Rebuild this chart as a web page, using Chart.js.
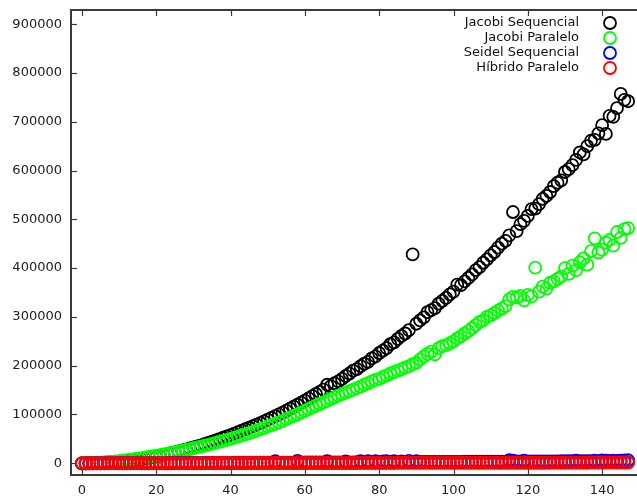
<!DOCTYPE html>
<html>
<head>
<meta charset="utf-8">
<script src="https://cdn.jsdelivr.net/npm/chart.js@4/dist/chart.umd.min.js"></script>
<style>
html,body{margin:0;padding:0;background:#fff;overflow:hidden}
#wrap{width:637px;height:497px;position:relative}
</style>
</head>
<body>
<div id="wrap"><canvas id="c"></canvas></div>
<script>
const xValues = [0,1,2,3,4,5,6,7,8,9,10,11,12,13,14,15,16,17,18,19,20,21,22,23,24,25,26,27,28,29,30,31,32,33,34,35,36,37,38,39,40,41,42,43,44,45,46,47,48,49,50,51,52,53,54,55,56,57,58,59,60,61,62,63,64,65,66,67,68,69,70,71,72,73,74,75,76,77,78,79,80,81,82,83,84,85,86,87,88,89,90,91,92,93,94,95,96,97,98,99,100,101,102,103,104,105,106,107,108,109,110,111,112,113,114,115,116,117,118,119,120,121,122,123,124,125,126,127,128,129,130,131,132,133,134,135,136,137,138,139,140,141,142,143,144,145,146,147];

const jacobiSequencial = [0,40,150,330,590,900,1300,1800,2300,2900,3600,4300,5100,6000,7000,8000,9100,10300,11500,12800,14200,15800,17300,18900,20600,22300,24300,26200,28100,30300,32400,34500,36900,39300,41800,44200,46800,49500,52300,55000,57800,60700,63800,66900,69800,72800,76000,79300,82500,86000,89500,93000,96500,100300,104000,108000,112000,116000,120000,124300,128500,133000,137500,142000,146500,151000,161000,158000,164000,168000,173000,179000,184000,190000,193000,199000,204000,208000,215000,219000,226000,231000,236000,244000,248000,255000,261000,266000,273000,428000,286000,293000,299000,310000,314000,318000,327000,333000,339000,346000,352000,366000,365000,373000,380000,387000,396000,402000,411000,418000,426000,433000,442000,450000,456000,467000,515000,476000,490000,497000,507000,521000,522000,531000,542000,548000,556000,568000,575000,580000,597000,603000,611000,622000,637000,633000,650000,661000,663000,676000,693000,675000,712000,710000,728000,757000,745000,742000];

const jacobiParalelo = [0,60,200,420,750,1200,1700,2300,3000,3700,4500,5400,6300,7300,8400,9500,10700,11900,13100,14300,15600,16900,18200,19600,21000,22500,24000,25700,27300,29000,30800,32600,34300,36000,37800,39800,41700,43800,46000,48000,50200,52500,54600,57000,59500,62000,64500,67000,69800,72500,75500,78300,81000,84000,87000,90500,94000,97000,100500,104000,107500,111000,114500,118000,121500,125000,128500,132000,135000,138500,142000,145000,148000,151000,154000,157000,161000,164000,168000,171000,173000,177000,180000,184000,187000,190000,193000,196000,199000,203000,206000,213000,219000,224000,229000,223000,236000,240000,242000,246000,250000,256000,260000,266000,271000,277000,283000,290000,293000,300000,303000,308000,313000,317000,322000,336000,341000,340000,343000,334000,345000,342000,401000,352000,362000,358000,370000,373000,378000,383000,400000,388000,405000,396000,412000,420000,407000,435000,461000,432000,438000,452000,458000,446000,474000,462000,480000,482000];

const seidelSequencial = [0,20,40,60,90,110,130,160,180,200,230,250,280,300,330,350,380,400,430,450,480,500,530,560,580,610,640,660,690,720,740,770,800,830,860,880,910,940,970,1000,1030,1060,1090,1120,1150,1180,1210,1240,1270,1300,1330,1360,4500,1420,1450,1480,1510,1540,5000,1600,1640,1670,1700,1730,1760,1800,4500,1860,1890,1930,1960,4000,2020,2060,2090,4200,2160,4500,2230,4300,2300,3800,4600,2400,4400,2470,4100,2540,4800,2610,4200,2680,2710,2750,2790,2820,2860,2900,2930,2970,3000,3040,3080,3120,3150,3190,3230,3270,3310,3340,3380,3420,3460,3500,3540,6200,5600,3660,3700,5500,3780,3820,3860,3900,3940,3980,4020,4060,4100,4140,4180,4220,4260,5200,4340,4380,4420,4460,5600,4540,5800,5400,4660,5200,5000,5600,5900,6200];

const hibridoParalelo = [0,10,20,30,40,50,60,70,80,90,100,110,120,130,140,150,160,170,180,190,200,210,220,230,240,250,260,270,280,290,300,310,320,330,340,350,360,370,380,390,400,410,420,430,440,450,460,470,480,490,500,510,520,530,540,550,560,570,580,590,600,610,620,630,640,650,660,670,680,690,700,710,720,730,740,750,760,770,780,790,800,810,820,830,840,850,860,870,880,890,900,910,920,930,940,950,960,970,980,990,1000,1010,1020,1030,1040,1050,1060,1070,1080,1090,1100,1110,1120,1130,1140,1150,1160,1170,1180,1190,1200,1210,1220,1230,1240,1250,1260,1270,1280,1290,1300,1310,1320,1330,1340,1350,1360,1370,1380,1390,1400,1410,1420,1430,1440,1450,1460,1470];

const xTicks = [0,20,40,60,80,100,120,140];
const yTicks = [0,100000,200000,300000,400000,500000,600000,700000,800000,900000];
const seriesNames = ['Jacobi Sequencial','Jacobi Paralelo','Seidel Sequencial','Híbrido Paralelo'];
const seriesValues = [jacobiSequencial, jacobiParalelo, seidelSequencial, hibridoParalelo];
const seriesColors = ['#000000','#00ff00','#0000ff','#ff0000'];

const FONT = "'DejaVu Sans', 'Liberation Sans', sans-serif";
const AXIS_COLOR = '#3a3a3a';

const datasets = seriesNames.map((name, i) => ({
  label: name,
  data: xValues.map((x, j) => ({x: x, y: seriesValues[i][j]})),
  showLine: false,
  clip: false,
  pointStyle: 'circle',
  pointRadius: 6,
  pointHoverRadius: 6,
  pointBorderWidth: i === 3 ? 2 : 1.8,
  borderColor: seriesColors[i],
  backgroundColor: 'rgba(0,0,0,0)',
  pointBackgroundColor: 'rgba(0,0,0,0)',
  order: seriesNames.length - 1 - i
}));

const framePlugin = {
  id: 'frame',
  beforeDatasetsDraw(chart) {
    const {ctx, chartArea: a, scales} = chart;
    ctx.save();
    ctx.strokeStyle = AXIS_COLOR;
    ctx.lineWidth = 1.2;
    xTicks.forEach(v => {
      const px = Math.round(scales.x.getPixelForValue(v)) + 0.5;
      ctx.beginPath();
      ctx.moveTo(px, a.bottom); ctx.lineTo(px, a.bottom - 6);
      ctx.moveTo(px, a.top); ctx.lineTo(px, a.top + 6);
      ctx.stroke();
    });
    yTicks.forEach(v => {
      const py = Math.round(scales.y.getPixelForValue(v)) + 0.5;
      ctx.beginPath();
      ctx.moveTo(a.left, py); ctx.lineTo(a.left + 6, py);
      ctx.stroke();
    });
    ctx.lineWidth = 2;
    ctx.beginPath();
    ctx.moveTo(chart.width, a.top);
    ctx.lineTo(a.left, a.top);
    ctx.lineTo(a.left, a.bottom);
    ctx.lineTo(chart.width, a.bottom);
    ctx.stroke();
    ctx.restore();
  }
};

const legendPlugin = {
  id: 'keyLegend',
  afterDraw(chart) {
    const {ctx, chartArea: a} = chart;
    ctx.save();
    ctx.font = '13px ' + FONT;
    ctx.textAlign = 'right';
    ctx.textBaseline = 'middle';
    seriesNames.forEach((name, i) => {
      const y = a.top + 13 + 15 * i;
      ctx.fillStyle = '#111';
      ctx.fillText(name, 579, y);
      ctx.beginPath();
      ctx.strokeStyle = seriesColors[i];
      ctx.lineWidth = 1.8;
      ctx.arc(610, y, 6, 0, Math.PI * 2);
      ctx.stroke();
    });
    ctx.restore();
  }
};

function zeroPad(s) { s.paddingLeft = 0; s.paddingRight = 0; s.paddingTop = 0; s.paddingBottom = 0; }

new Chart(document.getElementById('c'), {
  type: 'scatter',
  data: { datasets },
  options: {
    responsive: true,
    maintainAspectRatio: false,
    devicePixelRatio: 1,
    animation: false,
    events: [],
    layout: { padding: { top: 10, right: 0, left: 0, bottom: 0 } },
    plugins: { legend: { display: false }, tooltip: { enabled: false } },
    scales: {
      x: {
        type: 'linear',
        min: -2.94,
        max: 147.23,
        grid: { display: false, drawTicks: false },
        border: { display: false },
        afterBuildTicks: s => { s.ticks = xTicks.map(v => ({value: v})); },
        afterFit: s => { s.height = 22; zeroPad(s); },
        ticks: {
          autoSkip: false,
          maxRotation: 0,
          padding: 8,
          color: '#222',
          font: { family: FONT, size: 13 },
          callback: v => String(v)
        }
      },
      y: {
        type: 'linear',
        min: -24000,
        max: 929000,
        grid: { display: false, drawTicks: false },
        border: { display: false },
        afterBuildTicks: s => { s.ticks = yTicks.map(v => ({value: v})); },
        afterFit: s => { s.width = 71; zeroPad(s); },
        ticks: {
          autoSkip: false,
          padding: 9,
          color: '#222',
          font: { family: FONT, size: 13 },
          callback: v => String(v)
        }
      }
    }
  },
  plugins: [framePlugin, legendPlugin]
});
</script>
</body>
</html>
